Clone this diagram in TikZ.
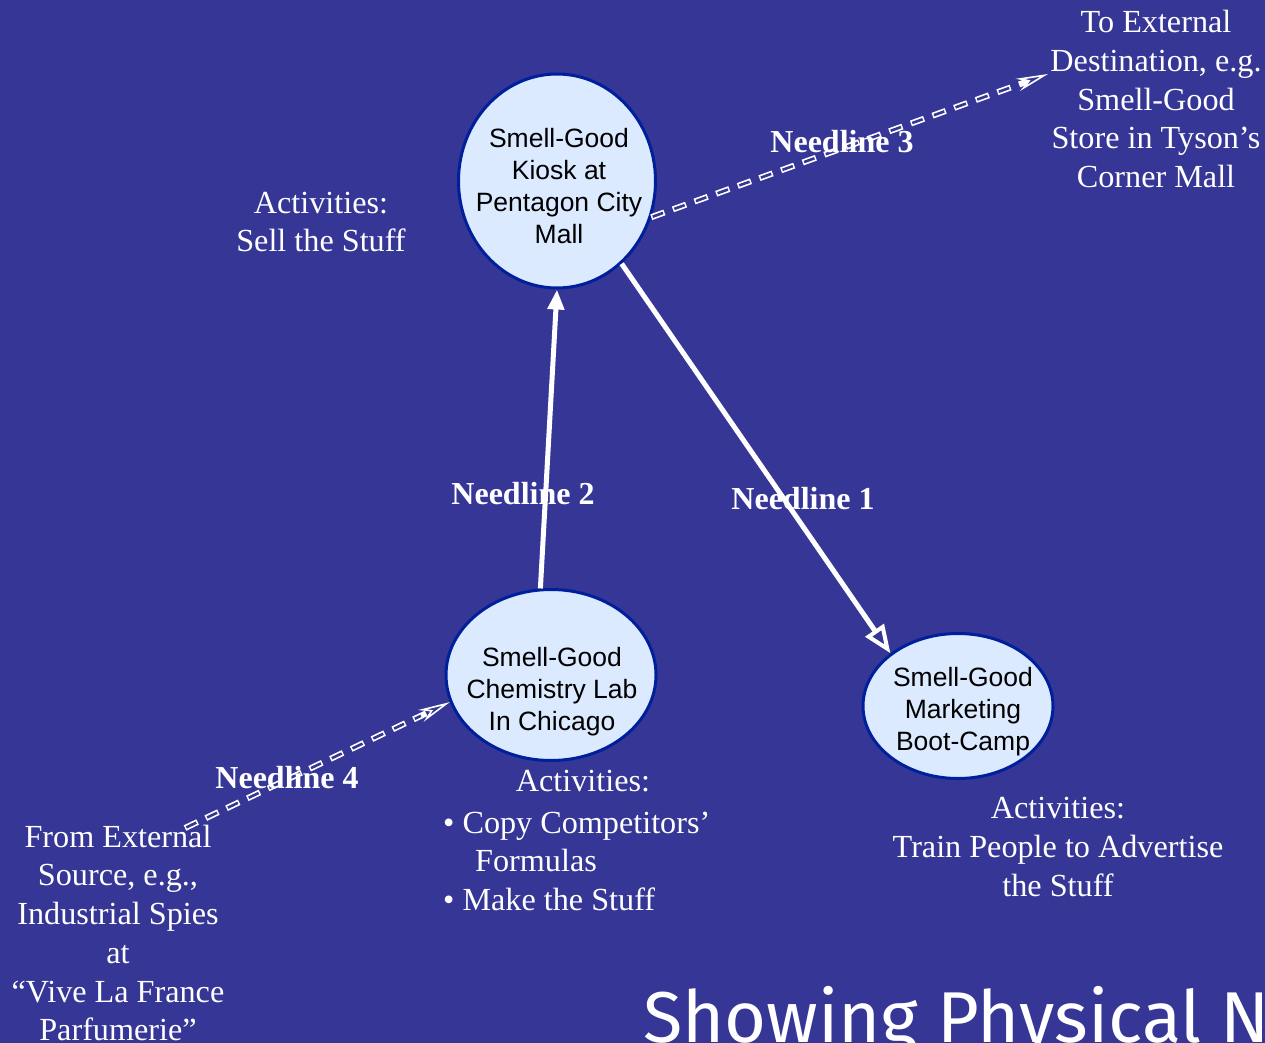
\documentclass[tikz,border=0pt]{standalone}
\usepackage{fontspec}
\setmainfont{Liberation Serif}
\newfontfamily\arialf{Liberation Sans}
\newfontfamily\titlef{Fira Sans}
\usetikzlibrary{shapes.geometric,arrows.meta}
\definecolor{bg}{RGB}{54,54,150}
\definecolor{nodefill}{RGB}{220,234,255}
\definecolor{nodeline}{RGB}{0,32,155}
\begin{document}
\begin{tikzpicture}[x=1pt,y=-1pt,
  place/.style={ellipse, draw=nodeline, line width=3pt, fill=nodefill, inner sep=0pt},
  ptext/.style={font=\arialf\fontsize{26.5}{32}\selectfont, align=center, text=black, inner sep=0pt},
  info/.style={text=white, font=\fontsize{32.2}{38.7}\selectfont, align=center, inner sep=0pt},
  nlabel/.style={text=white, font=\bfseries\fontsize{32}{38}\selectfont, inner sep=0pt},
  solidline/.style={draw=white, line width=5pt},
  dashout/.style={draw=white, line width=6pt, dash pattern=on 14pt off 9pt,
    -{Stealth[length=32pt,width=13pt,fill=bg,line width=1.6pt]}},
  dashin/.style={draw=bg, line width=2.6pt, dash pattern=on 11pt off 12pt, dash phase=21.5pt, shorten >=32pt},
]
\fill[bg] (0,0) rectangle (1265,1043);
\useasboundingbox (0,0) rectangle (1265,1043);
\clip (0,0) rectangle (1265,1043);

% places
\node[place, minimum width=197pt, minimum height=214pt] (kiosk) at (557,181) {};
\node[place, minimum width=210pt, minimum height=171pt] (chem) at (551,675) {};
\node[place, minimum width=190pt, minimum height=145pt] (mkt) at (958,706) {};
\node[ptext] (kiosk-t) at (559,186) {Smell-Good\\Kiosk at\\Pentagon City\\Mall};
\node[ptext] (chem-t) at (552,692) {Smell-Good\\Chemistry Lab\\In Chicago};
\node[ptext] (mkt-t) at (963,712) {Smell-Good\\Marketing\\Boot-Camp};

% free ends
\coordinate (ext3) at (1048,74);
\coordinate (src4) at (185,828);

% connectors
\draw[solidline, -{Triangle[length=20pt,width=16pt]}] (chem.97) -- (kiosk.270);
\draw[solidline, -{Triangle[length=28pt,width=22pt,fill=bg,line width=4pt]}] (kiosk.-52.6) -- (mkt.142);
\draw[dashout] (kiosk.-21.7) -- (ext3);
\draw[dashin] (kiosk.-21.7) -- (ext3);
\draw[dashout] (src4) -- (chem.195.5);
\draw[dashin] (src4) -- (chem.195.5);

% needline labels
\node[nlabel] (n1) at (803,499) {Needline 1};
\node[nlabel] (n2) at (523,494) {Needline 2};
\node[nlabel] (n3) at (842,142) {Needline 3};
\node[nlabel] (n4) at (287,778) {Needline 4};

% texts
\node[info] (dest) at (1156,99) {To External\\Destination, e.g.\\Smell-Good\\Store in Tyson’s\\Corner Mall};
\node[info] (kact) at (321,222) {Activities:\\Sell the Stuff};
\node[info, anchor=base] (cact) at (583,791) {Activities:};
\node[info, anchor=base west] (b1) at (443,833) {• Copy Competitors’};
\node[info, anchor=base west] (b1b) at (475,871) {Formulas};
\node[info, anchor=base west] (b2) at (443,910) {• Make the Stuff};
\node[info] (mact) at (1058,847) {Activities:\\Train People to Advertise\\the Stuff};
\node[info] (src) at (118,933) {From External\\Source, e.g.,\\Industrial Spies\\at\\“Vive La France\\Parfumerie”};

% title
\node[anchor=base west, text=white, font=\titlef\fontsize{72}{80}\selectfont, inner sep=0pt] (title) at (643,1042) {Showing Physical Needlines};
\end{tikzpicture}
\end{document}
